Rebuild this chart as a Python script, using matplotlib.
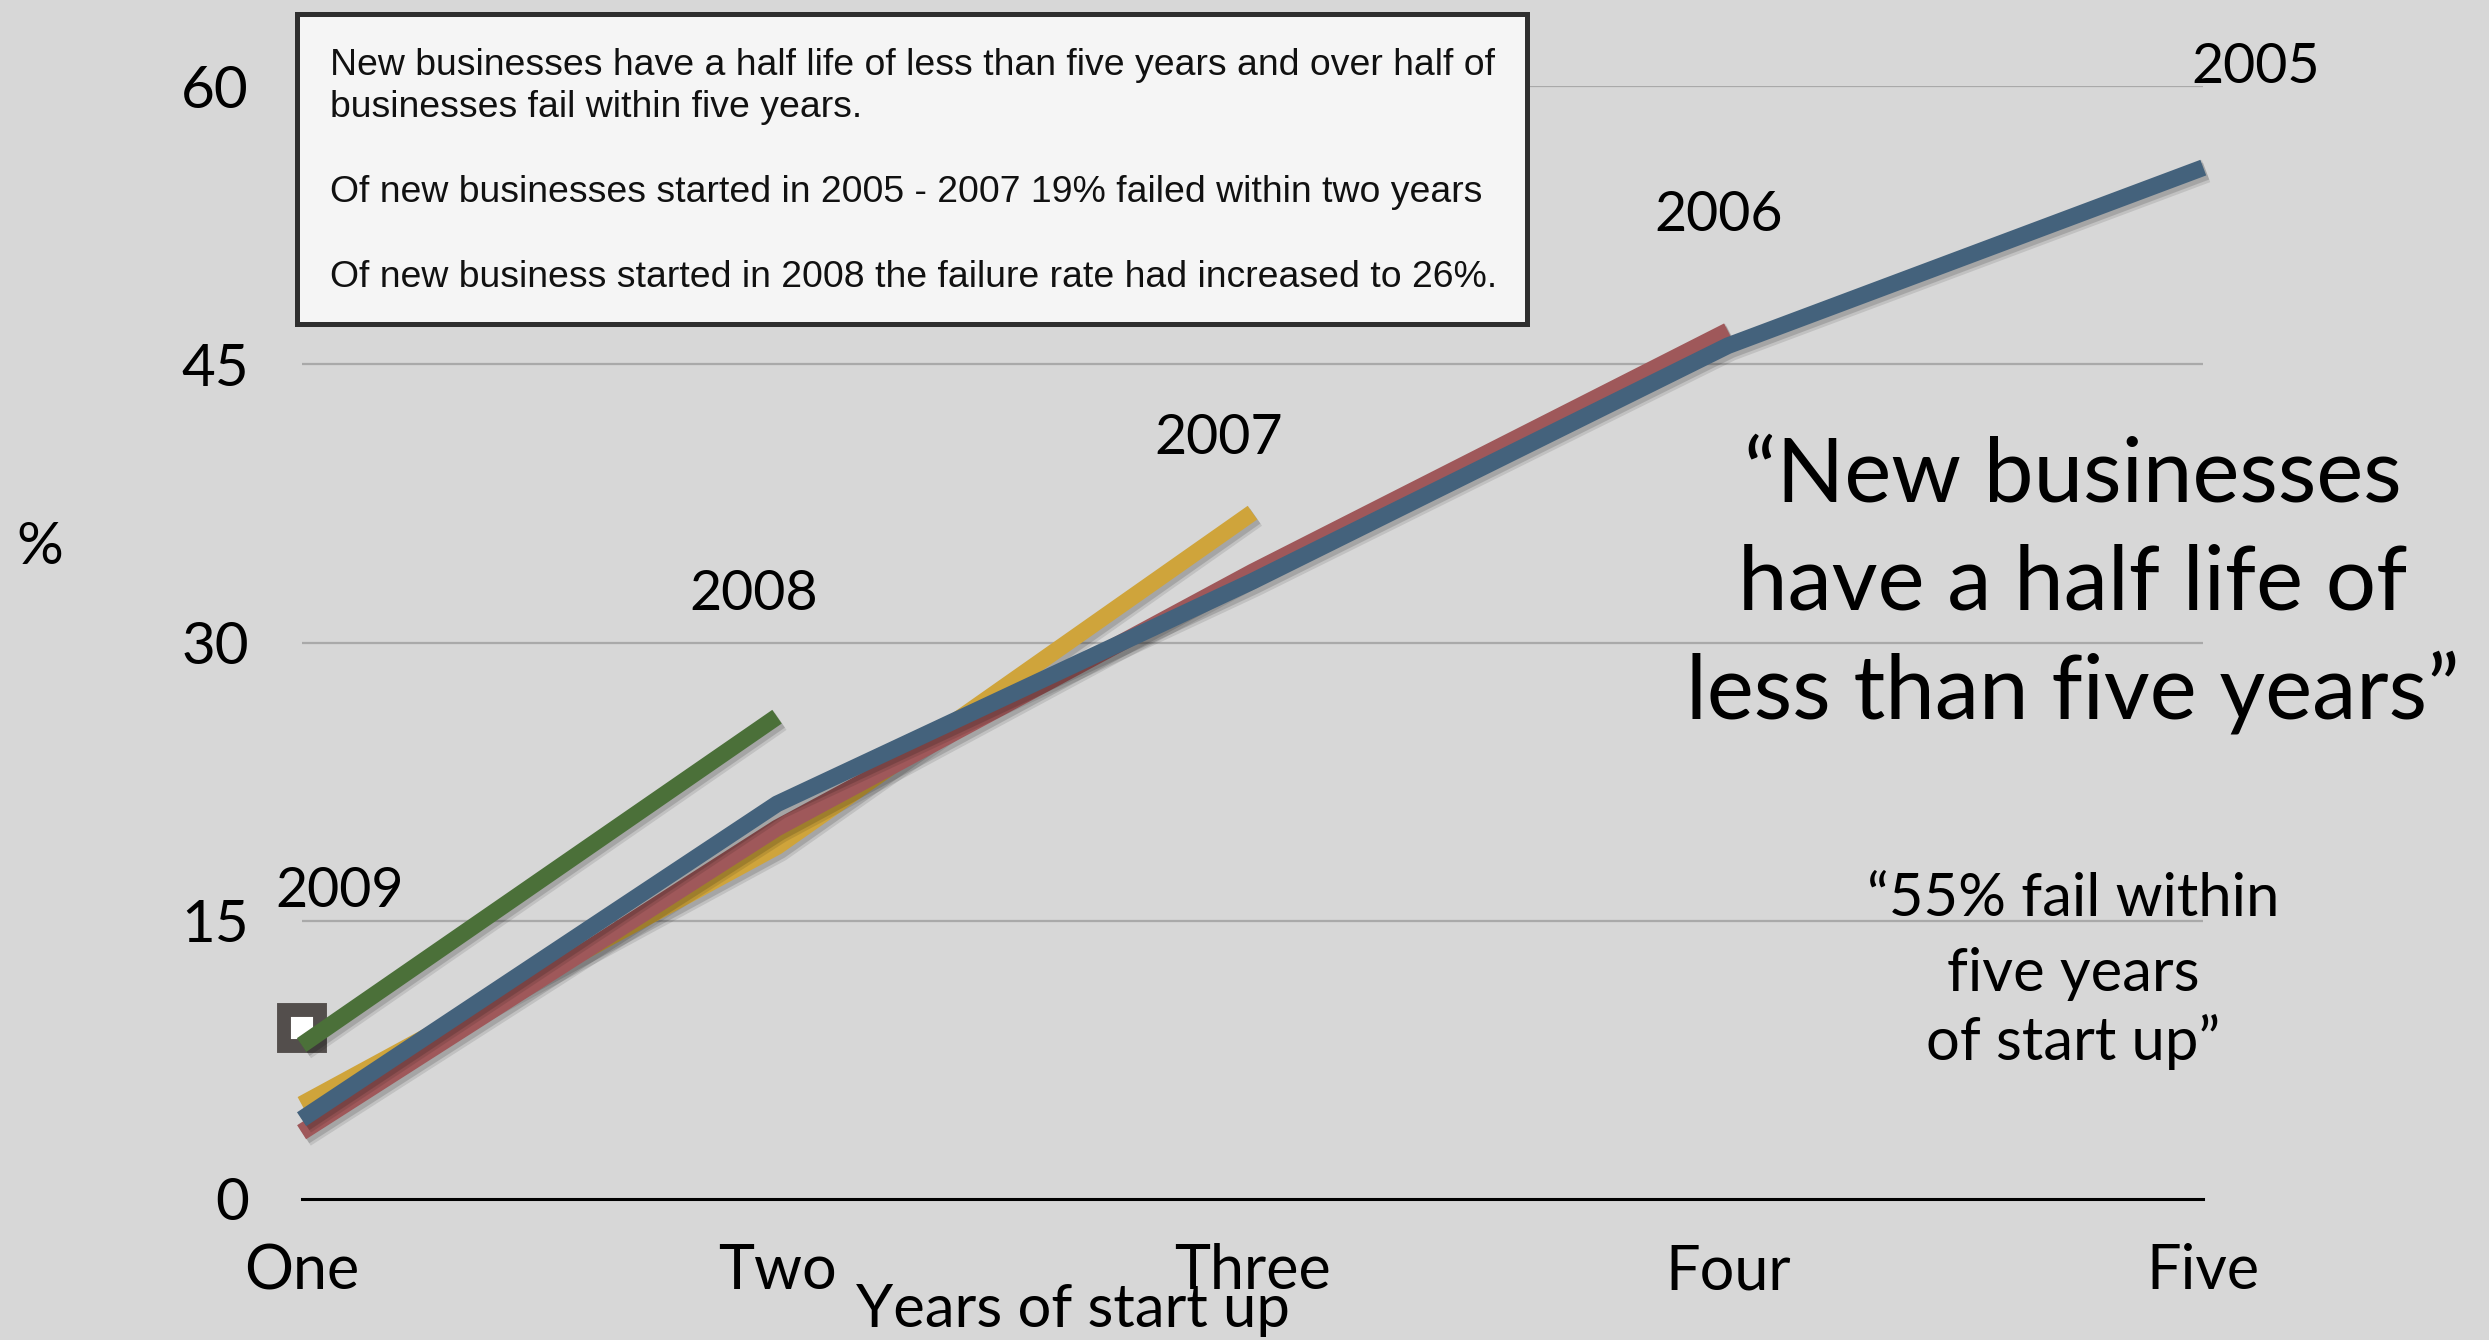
import matplotlib
matplotlib.use("Agg")
import matplotlib.pyplot as plt
import matplotlib.patheffects as pe
from matplotlib.patches import Rectangle

# Share of new businesses that have failed, by year since start up (%)
years_of_startup = ["One", "Two", "Three", "Four", "Five"]
cohort_2005 = [4.3, 21.3, 33.3, 46.0, 55.6]
cohort_2006 = [3.6, 20.0, 33.8, 46.8]
cohort_2007 = [5.1, 19.0, 37.0]
cohort_2008 = [8.3, 26.0]
cohort_2009 = [9.2]
y_ticks = [0, 15, 30, 45, 60]

cohort_labels = ["2005", "2006", "2007", "2008", "2009"]

note_lines = [
    "New businesses have a half life of less than five years and over half of",
    "businesses fail within five years.",
    "Of new businesses started in 2005 - 2007 19% failed within two years",
    "Of new business started in 2008 the failure rate had increased to 26%.",
]
big_quote = ["\u201cNew businesses", "have a half life of", "less than five years\u201d"]
small_quote = ["\u201c55% fail within", "five years", "of start up\u201d"]

BG = "#d7d7d7"
W, H = 2489, 1340
plt.rcParams["font.family"] = ["Lato", "DejaVu Sans"]

fig = plt.figure(figsize=(W / 100, H / 100), dpi=100, facecolor=BG)


def fx(px):
    return px / W


def fy(py):
    return 1 - py / H


ax = fig.add_axes([fx(301.6), fy(1199), fx(2203.3) - fx(301.6), fy(86) - fy(1199)])
ax.set_facecolor(BG)
ax.set_xlim(0, 4)
ax.set_ylim(0, 60)

for s in ["top", "right", "left"]:
    ax.spines[s].set_visible(False)
ax.spines["bottom"].set_color("black")
ax.spines["bottom"].set_linewidth(2.2)

ax.set_yticks(y_ticks)
ax.set_yticklabels([str(v) for v in y_ticks])
ax.set_xticks(range(len(years_of_startup)))
ax.set_xticklabels(years_of_startup)
ax.tick_params(axis="y", length=0, pad=38, labelsize=42)
ax.tick_params(axis="x", length=0, pad=32, labelsize=44)
ax.yaxis.grid(True, color="#a9a9a9", linewidth=1.6)
ax.set_axisbelow(True)
for gl, v in zip(ax.yaxis.get_gridlines(), y_ticks):
    if v == 0:
        gl.set_visible(False)


def shadow():
    return [
        pe.SimpleLineShadow(offset=(2.0, -2.5), shadow_color="black", alpha=0.10, linewidth=17),
        pe.SimpleLineShadow(offset=(2.0, -2.5), shadow_color="black", alpha=0.14, linewidth=13),
        pe.Normal(),
    ]


LW = 12
colors = {
    "2005": "#44627c",
    "2006": "#9f585a",
    "2007": "#cfa43b",
    "2008": "#4b7039",
}

# 2009 cohort: single point after one year
ax.plot(range(len(cohort_2009)), cohort_2009, linestyle="none", marker="s",
        markersize=26, markerfacecolor="white", markeredgecolor="#534e4c",
        markeredgewidth=10, clip_on=False, zorder=2,
        path_effects=[pe.SimplePatchShadow(offset=(2, -2.5), alpha=0.15), pe.Normal()])

for name, series, z in [("2007", cohort_2007, 3), ("2006", cohort_2006, 4),
                        ("2005", cohort_2005, 5), ("2008", cohort_2008, 6)]:
    ax.plot(range(len(series)), series, color=colors[name], linewidth=LW,
            solid_capstyle="butt", solid_joinstyle="round", clip_on=False,
            zorder=z, path_effects=shadow())

# Cohort labels near the end of each line
label_pos = {"2005": (4.11, 61.0), "2006": (2.98, 53.0), "2007": (1.93, 41.0),
             "2008": (0.95, 32.6), "2009": (0.08, 16.6)}
for name in cohort_labels:
    x, y = label_pos[name]
    ax.text(x, y, name, fontsize=40, ha="center", va="center", clip_on=False)

fig.text(fx(40), fy(548), "%", fontsize=42, ha="center", va="center")
fig.text(fx(1073), fy(1327), "Years of start up", fontsize=43, ha="center", va="baseline")

# Note box
box = Rectangle((fx(297), fy(324)), fx(1527) - fx(297), fy(14) - fy(324),
                transform=fig.transFigure, facecolor="#f5f5f5", edgecolor="#2e2e2e",
                linewidth=3.6, zorder=10)
fig.add_artist(box)
for line, base in zip(note_lines, [75, 117, 202, 287]):
    fig.text(fx(330), fy(base), line, fontsize=26.9, family=["Liberation Sans", "DejaVu Sans"],
             ha="left", va="baseline", color="#111111", zorder=11)

for line, base in zip(big_quote, [502, 610, 718]):
    fig.text(fx(2073), fy(base), line, fontsize=64, ha="center", va="baseline")
for line, base in zip(small_quote, [916, 991, 1060]):
    fig.text(fx(2073), fy(base), line, fontsize=43, ha="center", va="baseline")

fig.savefig("out.png", dpi=100, facecolor=BG)
